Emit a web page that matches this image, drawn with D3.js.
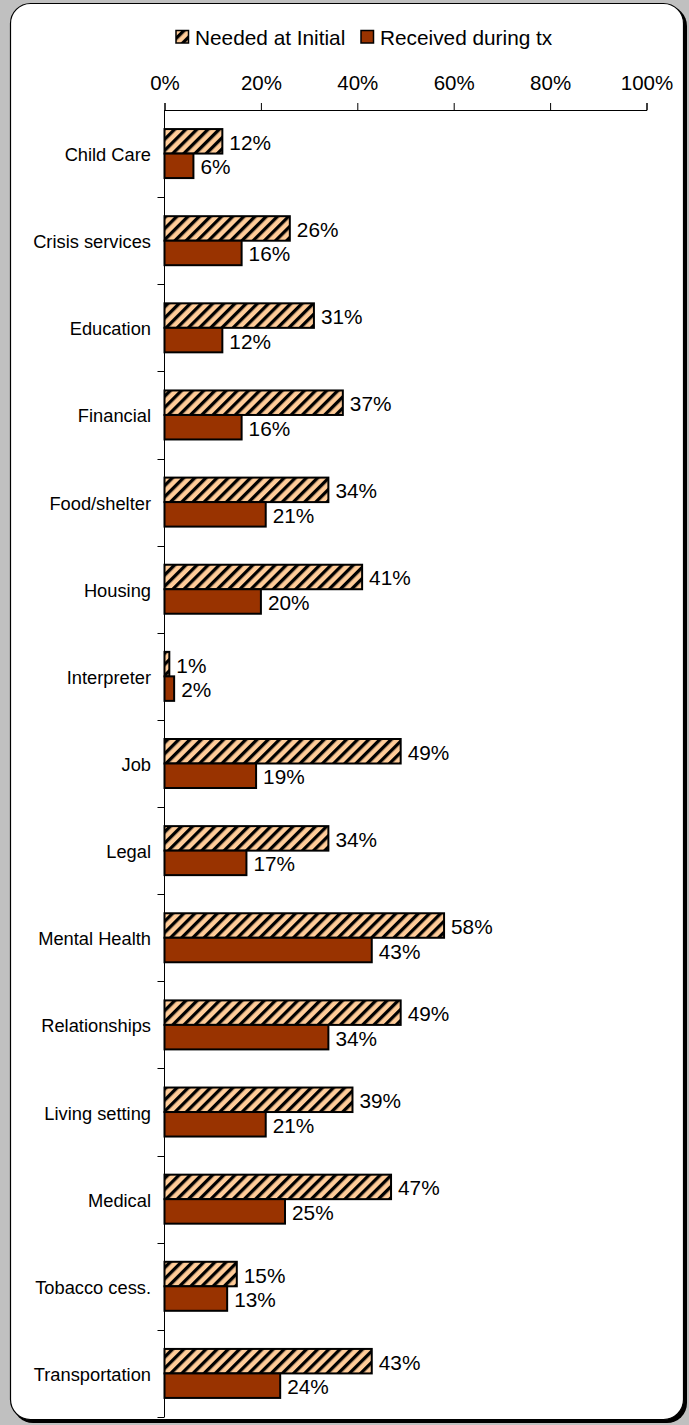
<!DOCTYPE html>
<html>
<head>
<meta charset="utf-8">
<script src="https://cdn.jsdelivr.net/npm/d3@7"></script>
<style>
  html, body { margin: 0; padding: 0; background: #c0c0c0; }
  svg { display: block; }
  text { font-family: "Liberation Sans", Arial, sans-serif; fill: #000; }
</style>
</head>
<body>
<script>
const categories = ["Child Care","Crisis services","Education","Financial","Food/shelter","Housing","Interpreter","Job","Legal","Mental Health","Relationships","Living setting","Medical","Tobacco cess.","Transportation"];
const needed =   [12,26,31,37,34,41,1,49,34,58,49,39,47,15,43];
const received = [6,16,12,16,21,20,2,19,17,43,34,21,25,13,24];
const seriesNames = ["Needed at Initial","Received during tx"];
const tickValues = [0,20,40,60,80,100];

const W = 689, H = 1425;
const svg = d3.select("body").append("svg").attr("width", W).attr("height", H);

const defs = svg.append("defs");
const pat = defs.append("pattern").attr("id","hatch").attr("patternUnits","userSpaceOnUse")
  .attr("width", 7.9).attr("height", 7.9).attr("patternTransform","rotate(45)");
pat.append("rect").attr("width",7.9).attr("height",7.9).attr("fill","#ffcc99");
pat.append("rect").attr("x",0).attr("width",3.3).attr("height",7.9).attr("fill","#000");

// frame
svg.append("rect").attr("x",0).attr("y",0).attr("width",W).attr("height",H).attr("fill","#c0c0c0");
svg.append("rect").attr("x",13).attr("y",6).attr("width",674).attr("height",1417).attr("rx",20).attr("fill","#000");
svg.append("rect").attr("x",10.5).attr("y",3.5).attr("width",673).attr("height",1416).attr("rx",20)
  .attr("fill","#fff").attr("stroke","#000").attr("stroke-width",1.2);

const x = d3.scaleLinear().domain([0,100]).range([164.5, 646.5]);
const y = d3.scaleBand().domain(categories).range([110, 1417]);

// top axis
const xAxis = d3.axisTop(x).tickValues(tickValues).tickFormat(d => d + "%").tickSize(7).tickPadding(13);
const gx = svg.append("g").attr("transform","translate(0,110)").call(xAxis);
gx.select(".domain").attr("stroke","#000").attr("stroke-width",1);
gx.selectAll(".tick line").attr("stroke","#000");
gx.selectAll(".tick text").attr("font-size",20.5).attr("font-family","Liberation Sans, Arial, sans-serif").attr("fill","#000");

// left axis
const ax = svg.append("g");
ax.append("line").attr("x1",x(0)).attr("x2",x(0)).attr("y1",110).attr("y2",1417).attr("stroke","#000");
const bounds = categories.map(c => y(c) + y.bandwidth());
ax.selectAll("line.t").data(bounds).join("line").attr("class","t")
  .attr("x1",x(0)-7).attr("x2",x(0)).attr("y1",d=>Math.round(d)+0.5).attr("y2",d=>Math.round(d)+0.5).attr("stroke","#000");
ax.selectAll("text").data(categories).join("text")
  .attr("x", 151).attr("y", d => y(d) + y.bandwidth()/2 + 1)
  .attr("text-anchor","end").attr("dominant-baseline","central").attr("font-size",18.3).text(d => d);

const barH = 24.5;
const rows = categories.map((c,i) => ({c, n: needed[i], r: received[i]}));
const g = svg.append("g");
rows.forEach(d => {
  const cy = y(d.c) + y.bandwidth()/2;
  g.append("rect").attr("x",x(0)).attr("y",cy - barH).attr("width",x(d.n)-x(0)).attr("height",barH)
    .attr("fill","url(#hatch)").attr("stroke","#000").attr("stroke-width",2);
  g.append("rect").attr("x",x(0)).attr("y",cy).attr("width",x(d.r)-x(0)).attr("height",barH)
    .attr("fill","#993300").attr("stroke","#000").attr("stroke-width",2);
  g.append("text").attr("x",x(d.n)+7).attr("y",cy - barH/2 + 1).attr("dominant-baseline","central")
    .attr("font-size",20.8).text(d.n + "%");
  g.append("text").attr("x",x(d.r)+7).attr("y",cy + barH/2 + 1).attr("dominant-baseline","central")
    .attr("font-size",20.8).text(d.r + "%");
});

// legend
const leg = svg.append("g");
const legItems = [{name: seriesNames[0], fill: "url(#hatch)", x: 176}, {name: seriesNames[1], fill: "#993300", x: 361}];
legItems.forEach(it => {
  leg.append("rect").attr("x",it.x).attr("y",30.5).attr("width",12.5).attr("height",12.5)
    .attr("fill",it.fill).attr("stroke","#000").attr("stroke-width",1.5);
  leg.append("text").attr("x",it.x+19).attr("y",37.5).attr("dominant-baseline","central")
    .attr("font-size",20.8).text(it.name);
});
</script>
</body>
</html>
